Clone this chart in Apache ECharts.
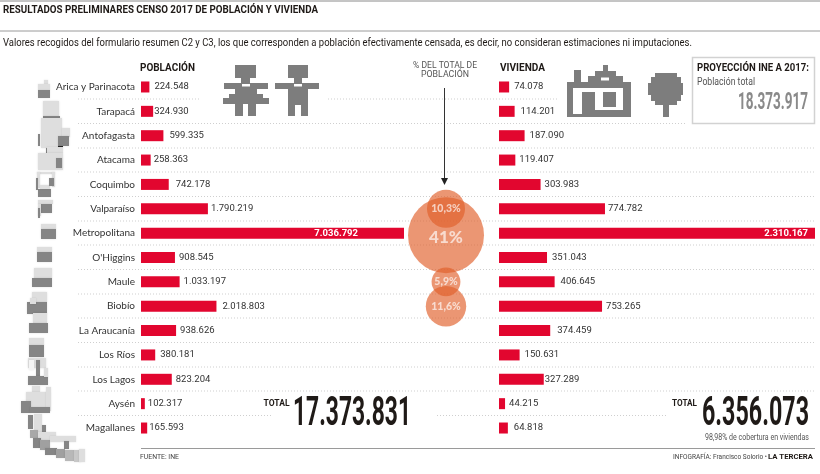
<!DOCTYPE html>
<html><head><meta charset="utf-8">
<style>html,body{margin:0;padding:0;background:#fff}#c{width:820px;height:474px}</style>
<script src="https://cdn.jsdelivr.net/npm/echarts@6/dist/echarts.min.js"></script>
</head><body><div id="c"></div>
<script>
const regions = ['Arica y Parinacota','Tarapacá','Antofagasta','Atacama','Coquimbo','Valparaíso','Metropolitana',"O'Higgins",'Maule','Biobío','La Araucanía','Los Ríos','Los Lagos','Aysén','Magallanes'];
const poblacion = [224548,324930,599335,258363,742178,1790219,7036792,908545,1033197,2018803,938626,380181,823204,102317,165593];
const vivienda = [74078,114201,187090,119407,303983,774782,2310167,351043,406645,753265,374459,150631,327289,44215,64818];
const shareRegions = ['Valparaíso','Metropolitana','Maule','Biobío'];
const shares = [10.3,41,5.9,11.6];
const totalPoblacion = '17.373.831', totalVivienda = '6.356.073', proyeccion = '18.373.917';

// layout only: label gap from bar end (negative = inside the bar)
const popGap = [5,1,6,3,7,3,-46,4,4,6,4,5,4,3,2];
const vivGap = [5,6,5,4,4,3,-7,5,6,4,7,5,1,4,6];
const RED='#e2062f', TXT='#333', DARK='#1f1a17', GREY='#7d7d7d', LIGHT='#dedede';
const ROB='Roboto', LATO='Lato';
const fmt = v => String(v).replace(/\B(?=(\d{3})+$)/g,'.');

function rows(vals,gaps){
  return vals.map((v,i)=> gaps[i]<0
    ? {value:v,label:{position:'insideRight',color:'#fff',distance:-gaps[i],fontWeight:'bold'}}
    : {value:v,label:{position:'right',distance:gaps[i]}});
}
const G = [];
const mctx=document.createElement('canvas').getContext('2d');
// draws text squeezed to the width it occupies in the reference
function text(s,x,y,o={}){
  const font=(o.w||'normal')+' '+(o.s||10)+'px '+(o.f||ROB);
  mctx.font=font;
  const sx=o.fit?o.fit/mctx.measureText(s).width:1;
  G.push({type:'text',x,y,scaleX:sx,silent:true,z:5,style:{text:s,x:0,y:0,font,fill:o.c||TXT,align:o.a||'left',verticalAlign:'middle'}});
}
function rect(x,y,w,h,c,z,soft){G.push({type:'rect',silent:true,z:z||3,shape:{x,y,width:w,height:h},
  style:Object.assign({fill:c},soft?{shadowBlur:2,shadowColor:'rgba(0,0,0,.12)'}:{})});}
function hline(x1,x2,y,c,dash,lw){G.push({type:'line',silent:true,z:0,shape:{x1,y1:y,x2,y2:y},style:{stroke:c,lineWidth:lw||1,lineDash:dash||null}});}

// rules
hline(0,820,1,'#8a8a8a');hline(0,820,31,'#9a9a9a');hline(141,815,448.5,'#9a9a9a');
const DOT=[1,2], DC='#cfcfcf';
[[99,[[78,201],[328,558]]],[123.5,[[78,685]]],[148,[[78,815]]],[172,[[78,815]]],[196.5,[[78,815]]],[221,[[78,815]]],[245,[[78,815]]],
 [269.5,[[78,815]]],[294,[[78,815]]],[318,[[78,815]]],[342.5,[[78,815]]],[367,[[78,815]]],[391,[[78,815]]],[415.5,[[78,272],[437,667]]]]
 .forEach(([y,segs])=>segs.forEach(s=>hline(s[0],s[1],y,DC,DOT)));

// texts
text('RESULTADOS PRELIMINARES CENSO 2017 DE POBLACIÓN Y VIVIENDA',3,10,{w:'bold',s:11,c:DARK,fit:315});
text('Valores recogidos del formulario resumen C2 y C3, los que corresponden a población efectivamente censada, es decir, no consideran estimaciones ni imputaciones.',3,43.5,{s:11.5,c:DARK,fit:689});
text('POBLACIÓN',140,68,{w:'bold',s:10.5,c:DARK,fit:55});
text('VIVIENDA',500,68,{w:'bold',s:10.5,c:DARK,fit:45});
text('% DEL TOTAL DE',445,66,{s:9.5,c:'#555',a:'center',fit:64});
text('POBLACIÓN',445,75,{s:9.5,c:'#555',a:'center',fit:48});
text('PROYECCIÓN INE A 2017:',697,68,{w:'bold',s:10.5,c:DARK,fit:112});
text('Población total',697,82,{s:10,c:'#555',fit:58});
text(proyeccion,808,102.5,{w:'bold',s:24,c:'#8a8a8a',a:'right',fit:70});
text('TOTAL',263.5,404,{w:'bold',s:8.5,c:DARK,fit:26});
text(totalPoblacion,411,415,{w:'bold',s:41,c:DARK,a:'right',fit:118});
text('TOTAL',672,404,{w:'bold',s:8.5,c:DARK,fit:25});
text(totalVivienda,809,415,{w:'bold',s:41,c:DARK,a:'right',fit:107});
text('98,98% de cobertura en viviendas',809,438,{s:8.5,c:'#555',a:'right',fit:104});
text('FUENTE: INE',140,457,{s:8,c:'#444',fit:39});
text('INFOGRAFÍA: Francisco Solorio •',673,457,{s:8,c:'#444',fit:94});
text('LA TERCERA',813,457,{w:'bold',s:8,c:DARK,a:'right',fit:45});

// projection box
G.push({type:'rect',silent:true,z:1,shape:{x:692.5,y:57.5,width:122,height:66},style:{fill:'#fff',stroke:'#d2d2d2',lineWidth:1.5}});
// arrow
G.push({type:'line',silent:true,z:3,shape:{x1:444.5,y1:88,x2:444.5,y2:180},style:{stroke:'#333',lineWidth:1}});
G.push({type:'polygon',silent:true,z:3,shape:{points:[[441,178],[448,178],[444.5,185]]},style:{fill:'#222'}});

// people icons
[[235,65,21,13],[241,78,9,5],[224,83,44,6],[235,89,22,8],[229,94,34,4],[223,98,46,6],[235,104,8,12],[248,104,8,12],
 [288,65,20,13],[294,78,8,5],[275,83,44,6],[288,89,20,16],[288,105,7,11],[301,105,7,11]].forEach(r=>rect(r[0],r[1],r[2],r[3],GREY));
rect(242,84,8,2.5,'#fff',4);rect(294,84,8,2.5,'#fff',4);
// house
[[574,70,7,13],[588,76,35,7],[595,71,21,6],[603,65,5,7],[567,82,64,35]].forEach(r=>rect(r[0],r[1],r[2],r[3],GREY));
rect(573,88,50,22,'#fff',4);rect(573,110,9,4,'#fff',4);rect(601,77.5,8,3,'#fff',4);
[[582,92,13,21],[603,92,13,15]].forEach(r=>rect(r[0],r[1],r[2],r[3],GREY,4));
// tree
[[655,73,22,32],[651,77,30,24],[648,83,35,12],[663,105,6,12]].forEach(r=>rect(r[0],r[1],r[2],r[3],GREY));

// map of Chile
const L=LIGHT, D='#858585';
[[44,80,4,4,L],[38,84,12,6,L],[38,90,12,8,D],
 [43,101,16,15,L],[43,116,17,2,D],[41,118,21,30,L],[62,128,8,9,L],[58,136,11,10,D],[38,134,2,12,D],
 [46,148,2,6,D],[47,147,16,6,L],[38,153,25,17,L],[56,158,6,10,D],[58,146,5,1,'#222'],
 [37,172,18,2,L],[37,172,3,16,L],[52,172,3,15,L],[38,189,13,8,D],[40,185,10,4,L],[36,178,2,12,D],[49,178,5,8,D],
 [38,200,15,4,L],[41,204,11,9,D],[38,204,3,12,L],[38,208,2,10,D],
 [41,224,15,5,L],[41,229,15,10,D],
 [37,247,15,5,L],[37,252,15,10,D],
 [34,268,18,10,L],[32,278,20,9,D],
 [32,292,15,10,L],[27,302,20,12,D],[30,298,6,6,L],
 [33,313,14,10,L],[29,323,19,10,D],
 [29,338,15,7,L],[29,345,15,12,D],
 [28,358,18,10,L],[29,360,5,10,'#f4f4f4'],[36,360,4,16,D],[28,376,20,9,D],[44,368,4,9,L],
 [32,386,8,6,L],[26,392,24,15,L],[46,387,5,24,L],[21,401,10,12,D],[30,407,20,6,D],
 [28,415,5,14,D],[34,414,8,18,L],[42,425,4,8,D],[30,430,8,8,'#a8a8a8'],[38,432,18,8,L],
 [33,438,8,10,D],[40,440,10,10,'#a0a0a0'],[50,436,26,6,L],[64,441,5,8,D],[45,448,12,7,D],[56,449,9,9,'#a0a0a0'],[65,450,9,11,'#b8b8b8'],[74,450,7,12,'#c8c8c8'],[79,449,6,13,L]
].forEach(r=>rect(r[0],r[1],r[2],r[3],r[4],3,true));

const grid=(left,width)=>({left,width,top:74.8,height:365.4});
const catAxis=(gridIndex,show)=>({type:'category',gridIndex,data:regions,inverse:true,axisLine:{show:false},axisTick:{show:false},
  splitLine:{show:false},axisLabel:{show,color:TXT,fontFamily:LATO,fontSize:10,margin:6}});
const valAxis=(gridIndex,min,max)=>({type:'value',gridIndex,min,max,show:false,splitLine:{show:false}});
const lab={show:true,color:TXT,fontFamily:ROB,fontSize:9.5,formatter:p=>fmt(p.value)};
const chart=echarts.init(document.getElementById('c'),null,{renderer:'canvas'});
chart.setOption({
  animation:false,backgroundColor:'#fff',
  grid:[grid(141,263),grid(499,316),grid(441,10)],
  xAxis:[valAxis(0,0,Math.max(...poblacion)),valAxis(1,0,Math.max(...vivienda)),valAxis(2,0,2)],
  yAxis:[catAxis(0,true),catAxis(1,false),catAxis(2,false)],
  graphic:G,
  series:[
    {type:'bar',name:'Población',xAxisIndex:0,yAxisIndex:0,barWidth:11,itemStyle:{color:RED},label:lab,data:rows(poblacion,popGap),z:2},
    {type:'bar',name:'Vivienda',xAxisIndex:1,yAxisIndex:1,barWidth:11,itemStyle:{color:RED},label:lab,data:rows(vivienda,vivGap),z:2},
    {type:'scatter',name:'% del total de población',xAxisIndex:2,yAxisIndex:2,z:4,
     symbolSize:d=>2*38*Math.sqrt(d[2]/41),
     itemStyle:{color:'#e0602a',opacity:0.66},
     label:{show:true,position:'inside',color:'#fff',fontFamily:LATO,fontWeight:900,fontSize:10.5,
       formatter:p=>String(p.data.value[2]).replace('.',',')+'%'},
     data:shareRegions.map((r,i)=>({value:[1,r,shares[i]],
       symbolOffset:shares[i]===41?[0,2]:[0,0],
       label:shares[i]===41?{fontSize:17,offset:[0,2]}:{}}))}
  ]
});
</script></body></html>
